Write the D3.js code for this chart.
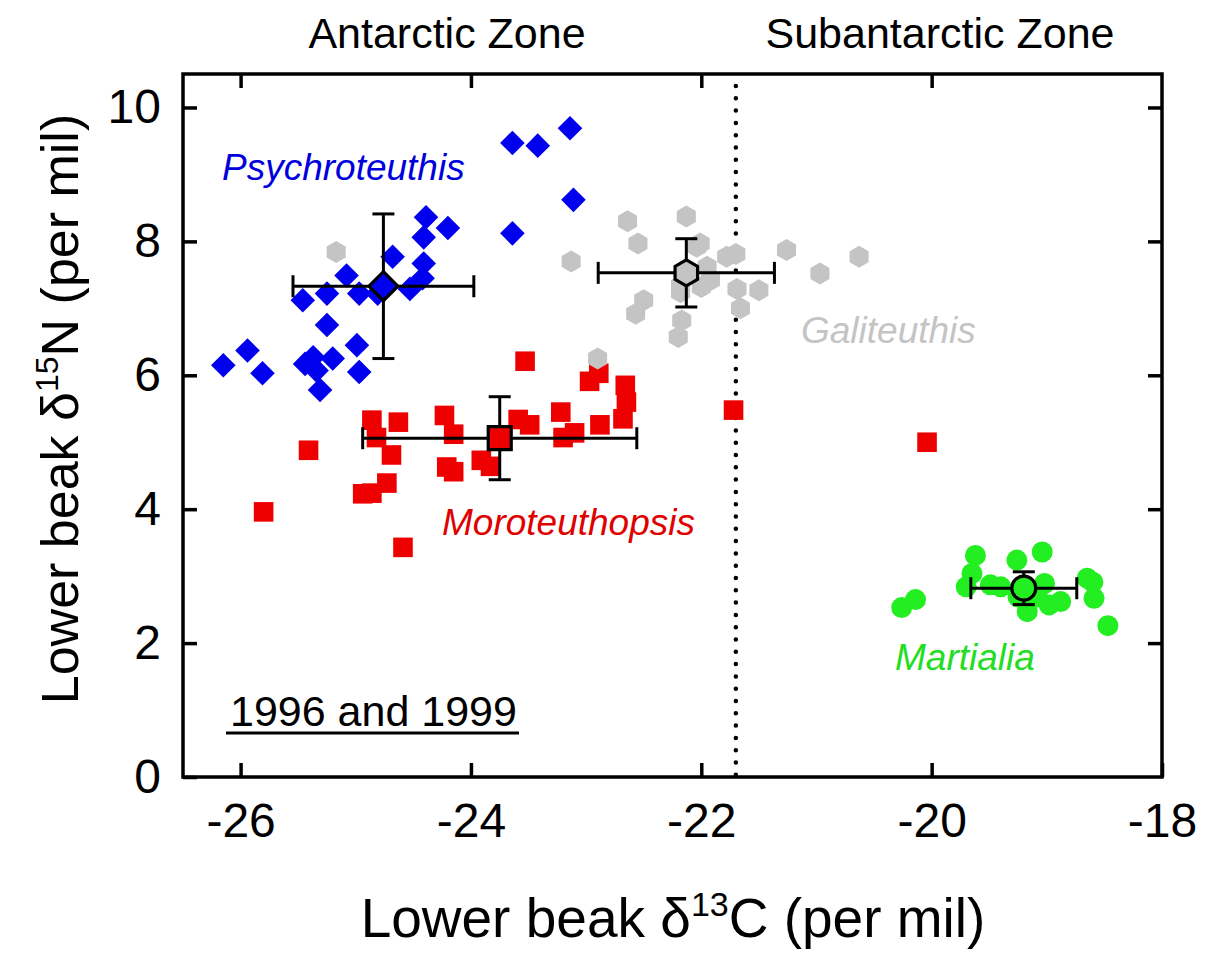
<!DOCTYPE html>
<html><head><meta charset="utf-8">
<script src="https://cdn.jsdelivr.net/npm/d3@7"></script>
<style>
html,body{margin:0;padding:0;background:#fff;}
svg{display:block;font-family:"Liberation Sans",Arial,sans-serif;}
</style></head>
<body>
<svg id="chart" width="1205" height="958"></svg>
<script>
// ---------- data ----------
const xTicks = [-26, -24, -22, -20, -18];
const yTicks = [0, 2, 4, 6, 8, 10];
const zoneLabels = ["Antarctic Zone", "Subantarctic Zone"];
const frontX = -21.7;

const psychroteuthis = [
  [-24.39,8.36],[-24.20,8.20],[-24.41,8.06],[-24.41,7.67],[-24.68,7.77],[-25.08,7.49],
  [-24.42,7.45],[-24.53,7.29],[-24.97,7.22],[-25.25,7.22],[-25.46,7.12],[-24.81,7.22],
  [-25.25,6.75],[-24.99,6.45],[-25.37,6.27],[-25.20,6.25],[-25.44,6.17],[-25.34,6.07],
  [-24.97,6.05],[-25.94,6.37],[-26.15,6.15],[-25.81,6.03],[-25.31,5.78],
  [-23.64,9.47],[-23.42,9.43],[-23.14,9.69],[-23.11,8.62],[-23.64,8.12]
];
const galiteuthis = [
  [-22.64,8.30],[-22.13,8.37],[-22.55,7.97],[-22.01,7.97],[-22.04,7.92],[-23.13,7.70],
  [-21.78,7.77],[-21.70,7.81],[-21.26,7.87],[-20.63,7.77],[-20.97,7.52],[-21.92,7.42],
  [-22.00,7.32],[-21.69,7.29],[-21.50,7.27],[-22.18,7.34],[-21.66,7.00],[-22.50,7.12],
  [-22.57,6.92],[-22.17,6.82],[-22.20,6.57],[-22.90,6.25],[-25.17,7.84],[-22.18,7.24],
  [-21.95,7.62]
];
const moroteuthopsis = [
  [-23.53,6.21],[-22.89,6.03],[-22.97,5.91],[-22.66,5.85],[-22.65,5.60],[-22.68,5.35],
  [-22.88,5.26],[-23.22,5.45],[-23.10,5.14],[-23.20,5.07],[-23.59,5.34],[-23.49,5.26],
  [-24.23,5.40],[-24.15,5.12],[-24.21,4.63],[-24.15,4.56],[-23.91,4.73],[-23.83,4.64],
  [-24.86,5.33],[-24.63,5.30],[-24.82,5.07],[-24.69,4.81],[-24.73,4.39],[-24.94,4.23],
  [-24.86,4.24],[-25.41,4.88],[-25.80,3.96],[-24.59,3.43],[-21.72,5.48],[-20.04,5.00]
];
const martialia = [
  [-19.62,3.31],[-19.04,3.36],[-19.26,3.24],[-19.65,3.04],[-19.70,2.84],[-19.49,2.87],
  [-19.40,2.84],[-19.02,2.89],[-18.65,2.97],[-18.60,2.91],[-18.59,2.67],[-18.88,2.62],
  [-18.98,2.57],[-19.17,2.47],[-20.14,2.65],[-20.26,2.53],[-18.47,2.26],[-19.25,2.69],
  [-19.08,2.69]
];
// means: [x, y, sdX, sdY]
const psychroMean = [-24.76, 7.33, 0.785, 1.08];
const galiMean    = [-22.13, 7.53, 0.765, 0.51];
const moroMean    = [-23.75, 5.06, 1.19, 0.62];
const martMean    = [-19.20, 2.82, 0.46, 0.245];

// ---------- layout ----------
const svg = d3.select("#chart");
const L = 183, R = 1162, T = 74, B = 777;
const x = d3.scaleLinear().domain([-26.5, -18]).range([L, R]);
const y = d3.scaleLinear().domain([0, 10.5]).range([B, T]);

const COL = {blue:"#0000ee", gray:"#c4c4c4", red:"#ee0000", green:"#22ee22"};

const shapes = {
  diamond: r => `M0,${-r}L${r},0L0,${r}L${-r},0Z`,
  square: r => `M${-r},${-r}H${r}V${r}H${-r}Z`,
  hexagon: r => { let p=[]; for(let i=0;i<6;i++){const a=Math.PI/3*i - Math.PI/2; p.push([r*Math.cos(a), r*Math.sin(a)]);} return "M"+p.map(d=>d.join(",")).join("L")+"Z"; },
  circle: r => `M${r},0A${r},${r} 0 1,1 ${-r},0A${r},${r} 0 1,1 ${r},0Z`
};

// dotted front line
svg.append("line").attr("x1", x(frontX)).attr("x2", x(frontX))
  .attr("y1", T+12).attr("y2", B)
  .attr("stroke","#000").attr("stroke-width",4.5).attr("stroke-linecap","round")
  .attr("stroke-dasharray","0 12.3");

function drawPoints(data, shape, r, color){
  svg.append("g").selectAll("path").data(data).join("path")
    .attr("transform", d => `translate(${x(d[0])},${y(d[1])})`)
    .attr("d", shapes[shape](r)).attr("fill", color);
}
drawPoints(moroteuthopsis, "square", 9.8, COL.red);
drawPoints(martialia, "circle", 10.5, COL.green);
drawPoints(psychroteuthis, "diamond", 12.3, COL.blue);
drawPoints(galiteuthis, "hexagon", 11, COL.gray);

function drawMean(m, shape, r, color){
  const g = svg.append("g").attr("stroke","#000").attr("stroke-width",3).attr("fill","none");
  const cx = x(m[0]), cy = y(m[1]);
  const x0 = x(m[0]-m[2]), x1 = x(m[0]+m[2]);
  const y0 = y(m[1]-m[3]), y1 = y(m[1]+m[3]);
  const cap = 11;
  g.append("line").attr("x1",x0).attr("x2",x1).attr("y1",cy).attr("y2",cy);
  g.append("line").attr("x1",cx).attr("x2",cx).attr("y1",y0).attr("y2",y1);
  g.append("line").attr("x1",x0).attr("x2",x0).attr("y1",cy-cap).attr("y2",cy+cap);
  g.append("line").attr("x1",x1).attr("x2",x1).attr("y1",cy-cap).attr("y2",cy+cap);
  g.append("line").attr("x1",cx-cap).attr("x2",cx+cap).attr("y1",y0).attr("y2",y0);
  g.append("line").attr("x1",cx-cap).attr("x2",cx+cap).attr("y1",y1).attr("y2",y1);
  g.append("path").attr("transform",`translate(${cx},${cy})`).attr("d",shapes[shape](r))
    .attr("fill",color).attr("stroke-width",3.2).attr("stroke-linejoin","miter");
}
drawMean(moroMean, "square", 11.5, COL.red);
drawMean(martMean, "circle", 12, COL.green);
drawMean(psychroMean, "diamond", 14.5, COL.blue);
drawMean(galiMean, "hexagon", 13, COL.gray);

// frame
svg.append("rect").attr("x",L).attr("y",T).attr("width",R-L).attr("height",B-T)
  .attr("fill","none").attr("stroke","#000").attr("stroke-width",3.5);

// axes with inward ticks
const tickLen = 14;
const xAxisB = d3.axisBottom(x).tickValues(xTicks).tickSizeInner(-tickLen).tickSizeOuter(0).tickPadding(26).tickFormat(d3.format("d"));
const gx = svg.append("g").attr("transform",`translate(0,${B})`).call(xAxisB);
gx.select(".domain").remove();
gx.selectAll(".tick line").attr("stroke-width",3.5);
gx.selectAll(".tick text").attr("font-size",48).attr("font-family","'Liberation Sans',Arial,sans-serif").attr("fill","#000")
  .text(d => d < 0 ? "-" + Math.abs(d) : d);

const xAxisT = d3.axisTop(x).tickValues(xTicks.slice(0,-1)).tickSizeInner(-tickLen).tickSizeOuter(0).tickFormat("");
const gxt = svg.append("g").attr("transform",`translate(0,${T})`).call(xAxisT);
gxt.select(".domain").remove();
gxt.selectAll(".tick line").attr("stroke-width",3.5);

const yAxisL = d3.axisLeft(y).tickValues(yTicks).tickSizeInner(-tickLen).tickSizeOuter(0).tickPadding(22);
const gy = svg.append("g").attr("transform",`translate(${L},0)`).call(yAxisL);
gy.select(".domain").remove();
gy.selectAll(".tick line").attr("stroke-width",3.5);
gy.selectAll(".tick text").attr("font-size",48).attr("font-family","'Liberation Sans',Arial,sans-serif").attr("fill","#000");

const yAxisR = d3.axisRight(y).tickValues(yTicks.slice(1)).tickSizeInner(-tickLen).tickSizeOuter(0).tickFormat("");
const gyr = svg.append("g").attr("transform",`translate(${R},0)`).call(yAxisR);
gyr.select(".domain").remove();
gyr.selectAll(".tick line").attr("stroke-width",3.5);

// zone labels
svg.append("text").attr("x",447).attr("y",48).attr("text-anchor","middle").attr("font-size",43).text(zoneLabels[0]);
svg.append("text").attr("x",940).attr("y",48).attr("text-anchor","middle").attr("font-size",43).text(zoneLabels[1]);

// species labels
function label(t, px, py, color){
  svg.append("text").attr("x",px).attr("y",py).attr("font-size",37).attr("font-style","italic").attr("fill",color).text(t);
}
label("Psychroteuthis", 222, 180, "#0000dd");
label("Galiteuthis", 801, 343, "#c4c4c4");
label("Moroteuthopsis", 442, 535, "#e00000");
label("Martialia", 895, 670, "#22dd22");

// year label
svg.append("text").attr("x",230).attr("y",726).attr("font-size",43).text("1996 and 1999");
svg.append("line").attr("x1",226).attr("x2",519).attr("y1",733).attr("y2",733).attr("stroke","#000").attr("stroke-width",3);

// axis titles
const xt = svg.append("text").attr("x",673).attr("y",937).attr("text-anchor","middle").attr("font-size",55);
xt.append("tspan").text("Lower beak δ");
xt.append("tspan").attr("dy",-21).attr("font-size",34).text("13");
xt.append("tspan").attr("dy",21).text("C (per mil)");

const yt = svg.append("text").attr("transform","translate(78,409) rotate(-90)").attr("text-anchor","middle").attr("font-size",52);
yt.append("tspan").text("Lower beak δ");
yt.append("tspan").attr("dy",-20).attr("font-size",32).text("15");
yt.append("tspan").attr("dy",20).text("N (per mil)");
</script>
</body></html>
